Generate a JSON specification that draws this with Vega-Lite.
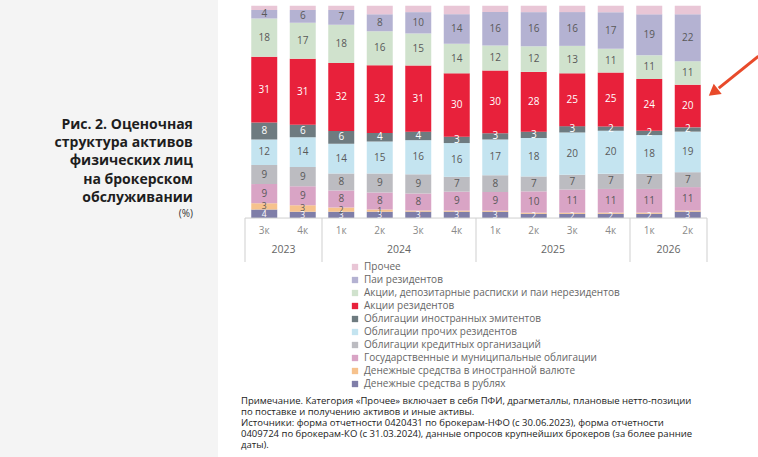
{
  "$schema": "https://vega.github.io/schema/vega-lite/v6.json",
  "background": "white",
  "padding": 0,
  "spacing": 23,
  "config": {
    "font": "Open Sans",
    "view": {"stroke": null},
    "legend": {"padding": 0}
  },
  "datasets": {
    "shares": [
      {"period": "2023 3к", "category": "Денежные средства в рублях", "value": 4},
      {"period": "2023 3к", "category": "Денежные средства в иностранной валюте", "value": 3},
      {"period": "2023 3к", "category": "Государственные и муниципальные облигации", "value": 9},
      {"period": "2023 3к", "category": "Облигации кредитных организаций", "value": 9},
      {"period": "2023 3к", "category": "Облигации прочих резидентов", "value": 12},
      {"period": "2023 3к", "category": "Облигации иностранных эмитентов", "value": 8},
      {"period": "2023 3к", "category": "Акции резидентов", "value": 31},
      {"period": "2023 3к", "category": "Акции, депозитарные расписки и паи нерезидентов", "value": 18},
      {"period": "2023 3к", "category": "Паи резидентов", "value": 4},
      {"period": "2023 3к", "category": "Прочее", "value": 2},

      {"period": "2023 4к", "category": "Денежные средства в рублях", "value": 3},
      {"period": "2023 4к", "category": "Денежные средства в иностранной валюте", "value": 3},
      {"period": "2023 4к", "category": "Государственные и муниципальные облигации", "value": 9},
      {"period": "2023 4к", "category": "Облигации кредитных организаций", "value": 9},
      {"period": "2023 4к", "category": "Облигации прочих резидентов", "value": 14},
      {"period": "2023 4к", "category": "Облигации иностранных эмитентов", "value": 6},
      {"period": "2023 4к", "category": "Акции резидентов", "value": 31},
      {"period": "2023 4к", "category": "Акции, депозитарные расписки и паи нерезидентов", "value": 17},
      {"period": "2023 4к", "category": "Паи резидентов", "value": 6},
      {"period": "2023 4к", "category": "Прочее", "value": 2},

      {"period": "2024 1к", "category": "Денежные средства в рублях", "value": 3},
      {"period": "2024 1к", "category": "Денежные средства в иностранной валюте", "value": 2},
      {"period": "2024 1к", "category": "Государственные и муниципальные облигации", "value": 8},
      {"period": "2024 1к", "category": "Облигации кредитных организаций", "value": 8},
      {"period": "2024 1к", "category": "Облигации прочих резидентов", "value": 14},
      {"period": "2024 1к", "category": "Облигации иностранных эмитентов", "value": 6},
      {"period": "2024 1к", "category": "Акции резидентов", "value": 32},
      {"period": "2024 1к", "category": "Акции, депозитарные расписки и паи нерезидентов", "value": 18},
      {"period": "2024 1к", "category": "Паи резидентов", "value": 7},
      {"period": "2024 1к", "category": "Прочее", "value": 2},

      {"period": "2024 2к", "category": "Денежные средства в рублях", "value": 3},
      {"period": "2024 2к", "category": "Денежные средства в иностранной валюте", "value": 1},
      {"period": "2024 2к", "category": "Государственные и муниципальные облигации", "value": 8},
      {"period": "2024 2к", "category": "Облигации кредитных организаций", "value": 9},
      {"period": "2024 2к", "category": "Облигации прочих резидентов", "value": 15},
      {"period": "2024 2к", "category": "Облигации иностранных эмитентов", "value": 4},
      {"period": "2024 2к", "category": "Акции резидентов", "value": 32},
      {"period": "2024 2к", "category": "Акции, депозитарные расписки и паи нерезидентов", "value": 16},
      {"period": "2024 2к", "category": "Паи резидентов", "value": 8},
      {"period": "2024 2к", "category": "Прочее", "value": 4},

      {"period": "2024 3к", "category": "Денежные средства в рублях", "value": 3},
      {"period": "2024 3к", "category": "Денежные средства в иностранной валюте", "value": 0.5},
      {"period": "2024 3к", "category": "Государственные и муниципальные облигации", "value": 8},
      {"period": "2024 3к", "category": "Облигации кредитных организаций", "value": 9},
      {"period": "2024 3к", "category": "Облигации прочих резидентов", "value": 16},
      {"period": "2024 3к", "category": "Облигации иностранных эмитентов", "value": 4},
      {"period": "2024 3к", "category": "Акции резидентов", "value": 31},
      {"period": "2024 3к", "category": "Акции, депозитарные расписки и паи нерезидентов", "value": 15},
      {"period": "2024 3к", "category": "Паи резидентов", "value": 10},
      {"period": "2024 3к", "category": "Прочее", "value": 3},

      {"period": "2024 4к", "category": "Денежные средства в рублях", "value": 3},
      {"period": "2024 4к", "category": "Денежные средства в иностранной валюте", "value": 0.5},
      {"period": "2024 4к", "category": "Государственные и муниципальные облигации", "value": 9},
      {"period": "2024 4к", "category": "Облигации кредитных организаций", "value": 7},
      {"period": "2024 4к", "category": "Облигации прочих резидентов", "value": 16},
      {"period": "2024 4к", "category": "Облигации иностранных эмитентов", "value": 3},
      {"period": "2024 4к", "category": "Акции резидентов", "value": 30},
      {"period": "2024 4к", "category": "Акции, депозитарные расписки и паи нерезидентов", "value": 14},
      {"period": "2024 4к", "category": "Паи резидентов", "value": 14},
      {"period": "2024 4к", "category": "Прочее", "value": 4},

      {"period": "2025 1к", "category": "Денежные средства в рублях", "value": 3},
      {"period": "2025 1к", "category": "Денежные средства в иностранной валюте", "value": 0.5},
      {"period": "2025 1к", "category": "Государственные и муниципальные облигации", "value": 9},
      {"period": "2025 1к", "category": "Облигации кредитных организаций", "value": 8},
      {"period": "2025 1к", "category": "Облигации прочих резидентов", "value": 17},
      {"period": "2025 1к", "category": "Облигации иностранных эмитентов", "value": 3},
      {"period": "2025 1к", "category": "Акции резидентов", "value": 30},
      {"period": "2025 1к", "category": "Акции, депозитарные расписки и паи нерезидентов", "value": 12},
      {"period": "2025 1к", "category": "Паи резидентов", "value": 16},
      {"period": "2025 1к", "category": "Прочее", "value": 3},

      {"period": "2025 2к", "category": "Денежные средства в рублях", "value": 2},
      {"period": "2025 2к", "category": "Денежные средства в иностранной валюте", "value": 0.5},
      {"period": "2025 2к", "category": "Государственные и муниципальные облигации", "value": 10},
      {"period": "2025 2к", "category": "Облигации кредитных организаций", "value": 7},
      {"period": "2025 2к", "category": "Облигации прочих резидентов", "value": 18},
      {"period": "2025 2к", "category": "Облигации иностранных эмитентов", "value": 3},
      {"period": "2025 2к", "category": "Акции резидентов", "value": 28},
      {"period": "2025 2к", "category": "Акции, депозитарные расписки и паи нерезидентов", "value": 12},
      {"period": "2025 2к", "category": "Паи резидентов", "value": 16},
      {"period": "2025 2к", "category": "Прочее", "value": 3},

      {"period": "2025 3к", "category": "Денежные средства в рублях", "value": 2},
      {"period": "2025 3к", "category": "Денежные средства в иностранной валюте", "value": 0.5},
      {"period": "2025 3к", "category": "Государственные и муниципальные облигации", "value": 11},
      {"period": "2025 3к", "category": "Облигации кредитных организаций", "value": 7},
      {"period": "2025 3к", "category": "Облигации прочих резидентов", "value": 20},
      {"period": "2025 3к", "category": "Облигации иностранных эмитентов", "value": 3},
      {"period": "2025 3к", "category": "Акции резидентов", "value": 25},
      {"period": "2025 3к", "category": "Акции, депозитарные расписки и паи нерезидентов", "value": 13},
      {"period": "2025 3к", "category": "Паи резидентов", "value": 16},
      {"period": "2025 3к", "category": "Прочее", "value": 3},

      {"period": "2025 4к", "category": "Денежные средства в рублях", "value": 2},
      {"period": "2025 4к", "category": "Денежные средства в иностранной валюте", "value": 0.5},
      {"period": "2025 4к", "category": "Государственные и муниципальные облигации", "value": 11},
      {"period": "2025 4к", "category": "Облигации кредитных организаций", "value": 7},
      {"period": "2025 4к", "category": "Облигации прочих резидентов", "value": 20},
      {"period": "2025 4к", "category": "Облигации иностранных эмитентов", "value": 2},
      {"period": "2025 4к", "category": "Акции резидентов", "value": 25},
      {"period": "2025 4к", "category": "Акции, депозитарные расписки и паи нерезидентов", "value": 11},
      {"period": "2025 4к", "category": "Паи резидентов", "value": 17},
      {"period": "2025 4к", "category": "Прочее", "value": 3},

      {"period": "2026 1к", "category": "Денежные средства в рублях", "value": 2},
      {"period": "2026 1к", "category": "Денежные средства в иностранной валюте", "value": 0.5},
      {"period": "2026 1к", "category": "Государственные и муниципальные облигации", "value": 11},
      {"period": "2026 1к", "category": "Облигации кредитных организаций", "value": 7},
      {"period": "2026 1к", "category": "Облигации прочих резидентов", "value": 18},
      {"period": "2026 1к", "category": "Облигации иностранных эмитентов", "value": 2},
      {"period": "2026 1к", "category": "Акции резидентов", "value": 24},
      {"period": "2026 1к", "category": "Акции, депозитарные расписки и паи нерезидентов", "value": 11},
      {"period": "2026 1к", "category": "Паи резидентов", "value": 19},
      {"period": "2026 1к", "category": "Прочее", "value": 4},

      {"period": "2026 2к", "category": "Денежные средства в рублях", "value": 3},
      {"period": "2026 2к", "category": "Денежные средства в иностранной валюте", "value": 0.5},
      {"period": "2026 2к", "category": "Государственные и муниципальные облигации", "value": 11},
      {"period": "2026 2к", "category": "Облигации кредитных организаций", "value": 7},
      {"period": "2026 2к", "category": "Облигации прочих резидентов", "value": 19},
      {"period": "2026 2к", "category": "Облигации иностранных эмитентов", "value": 2},
      {"period": "2026 2к", "category": "Акции резидентов", "value": 20},
      {"period": "2026 2к", "category": "Акции, депозитарные расписки и паи нерезидентов", "value": 11},
      {"period": "2026 2к", "category": "Паи резидентов", "value": 22},
      {"period": "2026 2к", "category": "Прочее", "value": 4}
    ],
    "periods": [
      {"period": "2023 3к", "q": "3к"},
      {"period": "2023 4к", "q": "4к"},
      {"period": "2024 1к", "q": "1к"},
      {"period": "2024 2к", "q": "2к"},
      {"period": "2024 3к", "q": "3к"},
      {"period": "2024 4к", "q": "4к"},
      {"period": "2025 1к", "q": "1к"},
      {"period": "2025 2к", "q": "2к"},
      {"period": "2025 3к", "q": "3к"},
      {"period": "2025 4к", "q": "4к"},
      {"period": "2026 1к", "q": "1к"},
      {"period": "2026 2к", "q": "2к"}
    ],
    "years": [
      {"year": "2023", "first": "2023 3к", "mid": "2023 4к"},
      {"year": "2024", "first": "2024 1к", "mid": "2024 3к"},
      {"year": "2025", "first": "2025 1к", "mid": "2025 3к"},
      {"year": "2026", "first": "2026 1к", "mid": "2026 2к"}
    ]
  },
  "hconcat": [
    {
      "width": 218,
      "height": 457,
      "view": {"fill": "#f4f4f4", "stroke": null},
      "data": {"values": [{}]},
      "layer": [
        {
          "mark": {
            "type": "text",
            "text": ["Рис. 2. Оценочная", "структура активов", "физических лиц", "на брокерском", "обслуживании"],
            "align": "right",
            "baseline": "middle",
            "fontSize": 14,
            "fontWeight": "bold",
            "lineHeight": 18.2,
            "color": "#1e1e1e"
          },
          "encoding": {
            "x": {"datum": 0.885, "type": "quantitative", "scale": {"domain": [0, 1]}, "axis": null},
            "y": {"datum": 0.2735, "type": "quantitative", "scale": {"domain": [0, 1], "reverse": true}, "axis": null}
          }
        },
        {
          "mark": {"type": "text", "text": "(%)", "align": "right", "baseline": "middle", "fontSize": 10, "color": "#333"},
          "encoding": {
            "x": {"datum": 0.885, "type": "quantitative"},
            "y": {"datum": 0.468, "type": "quantitative"}
          }
        }
      ]
    },
    {
      "width": 462,
      "height": 262,
      "title": {
        "text": [
          "Примечание. Категория «Прочее» включает в себя ПФИ, драгметаллы, плановые нетто-позиции",
          "по поставке и получению активов и иные активы.",
          "Источники: форма отчетности 0420431 по брокерам-НФО (с 30.06.2023), форма отчетности",
          "0409724 по брокерам-КО (с 31.03.2024), данные опросов крупнейших брокеров (за более ранние",
          "даты)."
        ],
        "orient": "bottom",
        "anchor": "start",
        "frame": "group",
        "align": "left",
        "dx": -4,
        "offset": 133,
        "fontSize": 9.5,
        "fontWeight": "normal",
        "lineHeight": 11,
        "color": "#222"
      },
      "layer": [
        {
          "data": {"name": "shares"},
          "transform": [
            {"calculate": "indexof(['Денежные средства в рублях', 'Денежные средства в иностранной валюте', 'Государственные и муниципальные облигации', 'Облигации кредитных организаций', 'Облигации прочих резидентов', 'Облигации иностранных эмитентов', 'Акции резидентов', 'Акции, депозитарные расписки и паи нерезидентов', 'Паи резидентов', 'Прочее'], datum.category)", "as": "k"},
            {"stack": "value", "groupby": ["period"], "sort": [{"field": "k", "order": "ascending"}], "offset": "normalize", "as": ["y0", "y1"]},
            {"calculate": "(datum.y0 + datum.y1) / 2", "as": "ymid"}
          ],
          "layer": [
            {
              "mark": {"type": "bar", "width": {"band": 0.675}},
              "encoding": {
                "x": {"field": "period", "type": "nominal", "scale": {"paddingInner": 0, "paddingOuter": 0}, "axis": null},
                "y": {"field": "y0", "type": "quantitative", "scale": {"domain": [-0.207, 1.027], "nice": false, "zero": false}, "axis": null},
                "y2": {"field": "y1"},
                "color": {
                  "field": "category",
                  "type": "nominal",
                  "scale": {
                    "domain": ["Прочее", "Паи резидентов", "Акции, депозитарные расписки и паи нерезидентов", "Акции резидентов", "Облигации иностранных эмитентов", "Облигации прочих резидентов", "Облигации кредитных организаций", "Государственные и муниципальные облигации", "Денежные средства в иностранной валюте", "Денежные средства в рублях"],
                    "range": ["#e9c6d6", "#b4b2d2", "#d0e2cd", "#e8213b", "#6e7b80", "#c4e4f0", "#bcbcc1", "#d9a4c5", "#f6c28d", "#7f7ea8"]
                  },
                  "legend": {
                    "title": null,
                    "orient": "none",
                    "legendX": 350,
                    "legendY": 262,
                    "symbolType": "square",
                    "symbolSize": 40,
                    "symbolStrokeWidth": 0,
                    "labelFontSize": 10,
                    "labelColor": "#666",
                    "labelLimit": 400,
                    "rowPadding": 3
                  }
                }
              }
            },
            {
              "transform": [{"filter": "datum.category != 'Прочее' && datum.value >= 1"}],
              "mark": {"type": "text", "baseline": "middle"},
              "encoding": {
                "x": {"field": "period", "type": "nominal"},
                "y": {"field": "ymid", "type": "quantitative"},
                "text": {"field": "value", "type": "quantitative"},
                "size": {
                  "condition": {"test": "datum.k <= 1", "value": 8.5},
                  "value": 10
                },
                "color": {
                  "condition": {"test": "indexof(['Денежные средства в рублях', 'Облигации иностранных эмитентов', 'Акции резидентов'], datum.category) >= 0", "value": "white"},
                  "value": "#595959"
                }
              }
            }
          ]
        },
        {
          "data": {"name": "periods"},
          "mark": {"type": "text", "fontSize": 10, "color": "#8a8a8a", "baseline": "middle"},
          "encoding": {
            "x": {"field": "period", "type": "nominal"},
            "y": {"datum": -0.06, "type": "quantitative"},
            "text": {"field": "q", "type": "nominal"}
          }
        },
        {
          "data": {"name": "years"},
          "mark": {"type": "text", "fontSize": 10.5, "color": "#666", "baseline": "middle"},
          "encoding": {
            "x": {"field": "mid", "type": "nominal", "bandPosition": 0},
            "y": {"datum": -0.151, "type": "quantitative"},
            "text": {"field": "year", "type": "nominal"}
          }
        },
        {
          "data": {"name": "years"},
          "mark": {"type": "rule", "color": "#cfcfcf", "strokeWidth": 1},
          "encoding": {
            "x": {"field": "first", "type": "nominal", "bandPosition": 0},
            "y": {"datum": 0, "type": "quantitative"},
            "y2": {"datum": -0.207}
          }
        },
        {
          "data": {"values": [{}]},
          "mark": {"type": "rule", "color": "#cfcfcf", "strokeWidth": 1},
          "encoding": {
            "x": {"datum": "2026 2к", "type": "nominal", "bandPosition": 1},
            "y": {"datum": 0, "type": "quantitative"},
            "y2": {"datum": -0.207}
          }
        },
        {
          "data": {"values": [{}]},
          "mark": {"type": "rule", "color": "#cfcfcf", "strokeWidth": 1},
          "encoding": {
            "y": {"datum": 0, "type": "quantitative"}
          }
        },
        {
          "data": {"values": [{}]},
          "mark": {"type": "rule", "color": "#e84a2a", "strokeWidth": 3, "xOffset": 90, "x2Offset": 31},
          "encoding": {
            "x": {"datum": "2026 2к", "type": "nominal", "bandPosition": 0},
            "x2": {"datum": "2026 2к"},
            "y": {"datum": 0.763, "type": "quantitative"},
            "y2": {"datum": 0.612}
          }
        },
        {
          "data": {"values": [{}]},
          "mark": {"type": "point", "shape": "triangle", "filled": true, "opacity": 1, "color": "#e84a2a", "size": 170, "angle": 232, "xOffset": 27},
          "encoding": {
            "x": {"datum": "2026 2к", "type": "nominal"},
            "y": {"datum": 0.598, "type": "quantitative"}
          }
        }
      ]
    }
  ]
}
